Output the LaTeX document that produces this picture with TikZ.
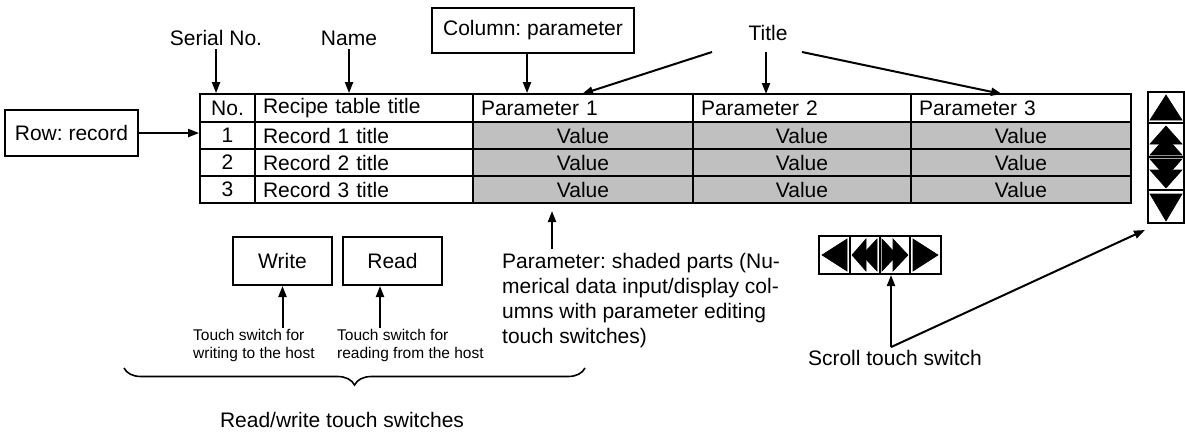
\documentclass[tikz,border=0pt]{standalone}
\usepackage{fontspec}
\setmainfont{Liberation Sans}
\frenchspacing
\usetikzlibrary{arrows.meta,decorations.pathreplacing,calc}
\definecolor{valgray}{HTML}{C0C0C0}
\begin{document}
\begin{tikzpicture}[x=1pt,y=-1pt,
  every node/.style={font=\fontsize{21}{25}\selectfont},
  cell/.style={draw, line width=1.8pt, inner ysep=0pt, anchor=center},
  hcell/.style={cell, inner xsep=8pt, align=left},
  vcell/.style={cell, fill=valgray, inner xsep=0pt},
  arr/.style={line width=2pt, -{Triangle[length=11pt,width=8pt]}},
  lbox/.style={draw, line width=1.3pt, inner sep=0pt},
  btn/.style={draw, line width=2pt, inner sep=0pt},
  small/.style={font=\fontsize{15.5}{18}\selectfont, align=left, inner sep=0pt, anchor=north west},
  tri/.style={fill=black, draw=black, line width=0.6pt, line join=miter}
]
\useasboundingbox[fill=white] (0,0) rectangle (1185,434);

% ---------- table ----------
\node[hcell, minimum width=55pt, minimum height=28pt, inner xsep=0pt] (nh) at (227.5,108) {No.};
\node[hcell, text width=202pt, minimum height=28pt] (rh) at (364,108) {Recipe table title};
\node[hcell, text width=204pt, minimum height=28pt] (p1) at (583,108) {Parameter 1};
\node[hcell, text width=202pt, minimum height=28pt] (p2) at (802,108) {Parameter 2};
\node[hcell, text width=204pt, minimum height=28pt] (p3) at (1021,108) {Parameter 3};
\foreach \r/\y in {1/135.5,2/162.5,3/189.5}{
  \node[cell, minimum width=55pt, minimum height=27pt, inner xsep=0pt] (n\r) at (227.5,\y) {\r};
  \node[hcell, text width=202pt, minimum height=27pt] (t\r) at (364,\y) {Record \r\ title};
  \node[vcell, minimum width=220pt, minimum height=27pt] (v\r1) at (583,\y) {Value};
  \node[vcell, minimum width=218pt, minimum height=27pt] (v\r2) at (802,\y) {Value};
  \node[vcell, minimum width=220pt, minimum height=27pt] (v\r3) at (1021,\y) {Value};
}

% ---------- labels above ----------
\node (serial) at (216,38) {Serial No.};
\node (name) at (349,38) {Name};
\node[lbox, minimum width=202pt, minimum height=45pt] (colp) at (533,30.5) {Column: parameter};
\node (title) at (768,33) {Title};
\node[lbox, minimum width=133pt, minimum height=46pt] (row) at (71.5,133) {Row: record};

\draw[arr] (serial.south) -- (serial.south |- nh.north);
\draw[arr] (name.south) -- (name.south |- rh.north);
\draw[arr] ([xshift=-6pt]colp.south) -- ([xshift=-6pt]colp.south |- p1.north);
\draw[arr] (row.east) -- (row.east -| n1.west);

\coordinate (ta) at (712,52);
\coordinate (tb) at (766,52);
\coordinate (tc) at (802,52);
\coordinate (ea) at (582,94);
\coordinate (eb) at (766,94);
\coordinate (ec) at (1002,94);
\draw[arr] (ta) -- (ea);
\draw[arr] (tb) -- (eb);
\draw[arr] (tc) -- (ec);

% ---------- vertical scroll switches ----------
\node[btn, minimum width=36pt, minimum height=31pt] (vb1) at (1166,107.5) {};
\node[btn, minimum width=36pt, minimum height=34pt] (vb2) at (1166,140) {};
\node[btn, minimum width=36pt, minimum height=33pt] (vb3) at (1166,173.5) {};
\node[btn, minimum width=36pt, minimum height=33pt] (vb4) at (1166,206.5) {};
\fill[tri] (1166,95) -- (1182,120) -- (1150,120) -- cycle;
\fill[tri] (1166,126) -- (1182,144) -- (1150,144) -- cycle;
\fill[tri] (1166,137) -- (1182,155) -- (1150,155) -- cycle;
\fill[tri] (1150,159) -- (1182,159) -- (1166,177) -- cycle;
\fill[tri] (1150,170) -- (1182,170) -- (1166,188) -- cycle;
\fill[tri] (1150,194) -- (1182,194) -- (1166,221) -- cycle;

% ---------- horizontal scroll switches ----------
\node[btn, minimum width=31pt, minimum height=38pt] (hs1) at (834.5,255) {};
\node[btn, minimum width=30pt, minimum height=38pt] (hs2) at (865,255) {};
\node[btn, minimum width=30pt, minimum height=38pt] (hs3) at (895,255) {};
\node[btn, minimum width=31pt, minimum height=38pt] (hs4) at (925.5,255) {};
\fill[tri] (822,255) -- (847,239) -- (847,271) -- cycle;
\fill[tri] (852,255) -- (866,239) -- (866,271) -- cycle;
\fill[tri] (862,255) -- (877,239) -- (877,271) -- cycle;
\fill[tri] (882,239) -- (897,255) -- (882,271) -- cycle;
\fill[tri] (893,239) -- (908,255) -- (893,271) -- cycle;
\fill[tri] (913,239) -- (938,255) -- (913,271) -- cycle;

\node[inner sep=3pt] (scroll) at (895,358) {Scroll touch switch};
\draw[arr] ([xshift=-4pt]scroll.north) -- ([xshift=-4pt]scroll.north |- hs3.south);
\draw[arr] ([xshift=-4pt]scroll.north) -- ([xshift=-2pt,yshift=-6pt]vb4.south west);

% ---------- parameter note ----------
\node[inner sep=0pt, anchor=north west, align=left] (ptext) at (502,253)
  {Parameter: shaded parts (Nu-\\merical data input/display col-\\umns with parameter editing\\touch switches)};
\coordinate (pa) at (552,249);
\coordinate (pb) at (552,211);
\draw[arr] (pa) -- (pb);

% ---------- read / write ----------
\node[btn, minimum width=99pt, minimum height=48pt] (write) at (282.5,261) {Write};
\node[btn, minimum width=99pt, minimum height=48pt] (read) at (392.5,261) {Read};
\node[small] (wt) at (193,329.5) {Touch switch for\\writing to the host};
\node[small] (rt) at (337,329.5) {Touch switch for\\reading from the host};
\draw[arr] ([yshift=2pt]wt.north -| write.south) -- (write.south);
\draw[arr] ([xshift=-12.5pt,yshift=-42pt]read.south) -- ([xshift=-12.5pt]read.south);

\coordinate (bl) at (124,368);
\coordinate (br) at (585,368);
\draw[line width=1.6pt, decorate, decoration={brace, mirror, amplitude=17pt}] (bl) -- (br);
\node (rw) at (342,420) {Read/write touch switches};
\end{tikzpicture}
\end{document}
